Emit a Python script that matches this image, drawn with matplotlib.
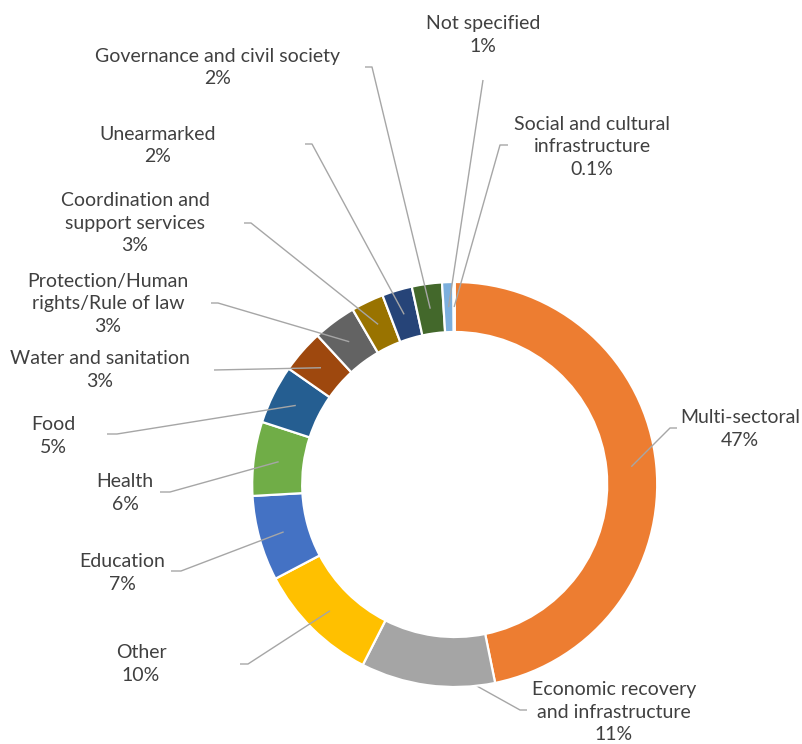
import numpy as np
import matplotlib.pyplot as plt

sectors = ['Multi-sectoral', 'Economic recovery\nand infrastructure', 'Other', 'Education',
           'Health', 'Food', 'Water and sanitation', 'Protection/Human\nrights/Rule of law',
           'Coordination and\nsupport services', 'Unearmarked', 'Governance and civil society',
           'Not specified', 'Social and cultural\ninfrastructure']
shares = [46.8, 10.7, 9.8, 6.8, 5.9, 4.7, 3.45, 3.45, 2.6, 2.4, 2.4, 0.9, 0.1]
colors = ['#ED7D31', '#A5A5A5', '#FFC000', '#4472C4', '#70AD47', '#255E91', '#9E480E',
          '#636363', '#997300', '#264478', '#43682B', '#7CAFDD', '#F1975A']

W, H = 803, 744
# label placement in pixel space (x from left, y from top)
label_xy = [(740, 429), (614, 712), (141, 664), (122, 573), (125, 493), (53, 436), (100, 370),
            (108, 304), (135, 223), (158, 145.5), (218, 67.5), (483, 35), (592, 147)]
leader_from = [(677, 428), (527, 710), (240, 664), (171, 571), (160, 492), (107, 434), (214, 370),
               (211, 303), (244, 223), (305, 144), (365, 67), (483, 80), (508, 145)]
leader_elbow = [(670, 428), (520, 710), (248, 664), (181, 571), (170, 492), (117, 434), (214, 370),
                (218, 303), (251, 223), (312, 144), (372, 67), (483, 80), (500, 145)]
# leaders drawn behind the ring instead of over it
leader_behind = [False, True, False, False, False, False, False, False, False, False, False,
                 False, False]

cx, cy = 454.7, H - 484.5
r_out, ring = 202.5, 50

plt.rcParams['font.family'] = ['Lato', 'DejaVu Sans']
fig = plt.figure(figsize=(W / 100, H / 100), dpi=100)
ax = fig.add_axes([0, 0, 1, 1])

wedges, _ = ax.pie(shares, colors=colors, startangle=90, counterclock=False,
                   center=(cx, cy), radius=r_out,
                   wedgeprops=dict(width=ring, edgecolor='white', linewidth=1.6, zorder=2))
ax.set_xlim(0, W)
ax.set_ylim(0, H)
ax.set_aspect('equal')
ax.axis('off')

def pct(v):
    return f'{v:.1f}%' if v < 0.5 else f'{v:.0f}%'

total = sum(shares)
start = 0.0
for i, v in enumerate(shares):
    mid = (start + v / 2) / total * 2 * np.pi
    start += v
    r = r_out - ring / 2
    px, py = cx + r * np.sin(mid), cy + r * np.cos(mid)
    (x0, y0), (x1, y1) = leader_from[i], leader_elbow[i]
    ax.plot([x0, x1, px], [H - y0, H - y1, py], color='#A6A6A6', lw=1.0,
            zorder=1 if leader_behind[i] else 3, solid_capstyle='butt')
    lx, ly = label_xy[i]
    ax.text(lx, H - ly, f'{sectors[i]}\n{pct(v)}', ha='center', va='center',
            multialignment='center', fontsize=14, color='#404040', linespacing=1.42)

fig.savefig('out.png', dpi=100)
